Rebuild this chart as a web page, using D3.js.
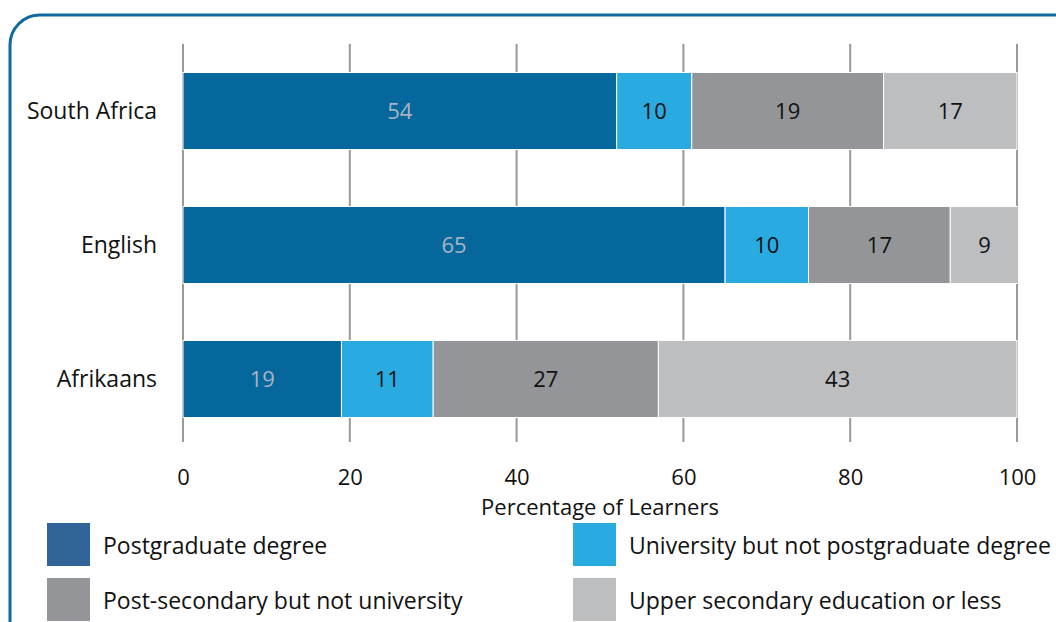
<!DOCTYPE html>
<html>
  <head>
    <meta charset="utf-8">
    <title>Parents' education by language</title>
    <script src="https://cdn.jsdelivr.net/npm/d3@7"></script>
    <style>
      body { margin: 0; background: #fff; }
      text { font-family: "Open Sans", sans-serif; fill: #111; }
      .grid line { stroke: #999; stroke-width: 2; }
    </style>
  </head>
  <body>
    <svg id="chart" width="1056" height="622"></svg>
    <script>
      // data
      var countries = ["South Africa", "English", "Afrikaans"];
      var keys = ["post", "uni", "postsec", "upper"];
      var keyNames = ["Postgraduate degree", "University but not postgraduate degree",
        "Post-secondary but not university", "Upper secondary education or less"];
      // bar widths as drawn, and the numbers printed on them
      var postgrad = [52, 65, 19];
      var university = [9, 10, 11];
      var postSecondary = [23, 17, 27];
      var upperSecondary = [16, 8.2, 43];
      var labelPost = ["54", "65", "19"];
      var labelUni = ["10", "10", "11"];
      var labelPostSec = ["19", "17", "27"];
      var labelUpper = ["17", "9", "43"];
      var xTicks = [0, 20, 40, 60, 80, 100];

      var barColours = ["#05679b", "#29abe2", "#939598", "#bcbec0"];
      var keyColours = ["#31659a", "#29abe2", "#939598", "#bcbec0"];

      var rows = countries.map(function(c, i) {
        return {
          country: c,
          post: postgrad[i], uni: university[i], postsec: postSecondary[i], upper: upperSecondary[i],
          labels: [labelPost[i], labelUni[i], labelPostSec[i], labelUpper[i]]
        };
      });

      var chart = d3.select("#chart");

      // border
      chart.append("rect")
        .attr("x", 10).attr("y", 15)
        .attr("width", 1080).attr("height", 650)
        .attr("rx", 30).attr("ry", 30)
        .attr("fill", "none")
        .attr("stroke", "#0f6aa0")
        .attr("stroke-width", 3);

      var x = d3.scaleLinear().domain([0, 100]).range([183, 1017]);
      var y = d3.scaleBand().domain(countries).range([44, 446]).paddingInner(0.425).paddingOuter(0.2125);

      // grid
      chart.append("g").attr("class", "grid")
        .selectAll("line").data(xTicks)
        .enter().append("line")
          .attr("x1", function(d) { return x(d); })
          .attr("x2", function(d) { return x(d); })
          .attr("y1", 44).attr("y2", 442);

      var stack = d3.stack().keys(keys);
      var layers = chart.append("g").selectAll("g")
        .data(stack(rows))
        .enter().append("g")
          .attr("fill", function(d, i) { return barColours[i]; });

      layers.selectAll("rect")
        .data(function(d) { return d; })
        .enter().append("rect")
          .attr("x", function(d) { return x(d[0]); })
          .attr("width", function(d) { return x(d[1]) - x(d[0]); })
          .attr("y", function(d) { return y(d.data.country); })
          .attr("height", y.bandwidth())
          .attr("stroke", "#fff")
          .attr("stroke-width", 1);

      layers.each(function(layer, k) {
        d3.select(this).selectAll("text")
          .data(layer)
          .enter().append("text")
            .attr("x", function(d) { return x((d[0] + d[1]) / 2); })
            .attr("y", function(d) { return y(d.data.country) + y.bandwidth() / 2; })
            .attr("dy", "0.35em")
            .attr("text-anchor", "middle")
            .style("font-size", "22px")
            .style("fill", k === 0 ? "#a9b4c2" : "#111")
            .text(function(d) { return d.data.labels[k]; });
      });

      // category labels
      chart.append("g").selectAll("text")
        .data(countries)
        .enter().append("text")
          .attr("x", 157)
          .attr("y", function(d) { return y(d) + y.bandwidth() / 2; })
          .attr("dy", "0.35em")
          .attr("text-anchor", "end")
          .style("font-size", "23px")
          .text(function(d) { return d; });

      // x axis
      var xAxis = d3.axisBottom(x).tickValues(xTicks).tickSize(0).tickPadding(0);
      var xAxisGroup = chart.append("g")
        .attr("transform", "translate(0, 469)")
        .call(xAxis);
      xAxisGroup.select(".domain").remove();
      xAxisGroup.selectAll("text")
        .style("font-family", "'Open Sans', sans-serif")
        .style("font-size", "22px")
        .style("fill", "#111");

      chart.append("text")
        .attr("x", 600).attr("y", 507)
        .attr("dy", "0.35em")
        .attr("text-anchor", "middle")
        .style("font-size", "22px")
        .text("Percentage of Learners");

      // legend
      var legendPos = [[47, 523], [573, 523], [47, 578], [573, 578]];
      var order = [0, 1, 2, 3];
      var legend = chart.append("g").selectAll("g")
        .data(order)
        .enter().append("g")
          .attr("transform", function(d) { return "translate(" + legendPos[d][0] + "," + legendPos[d][1] + ")"; });
      legend.append("rect")
        .attr("width", 43).attr("height", 43)
        .attr("fill", function(d) { return keyColours[d]; });
      legend.append("text")
        .attr("x", 56).attr("y", 23)
        .attr("dy", "0.35em")
        .style("font-size", "23px")
        .text(function(d) { return keyNames[d]; });
    </script>
  </body>
</html>
